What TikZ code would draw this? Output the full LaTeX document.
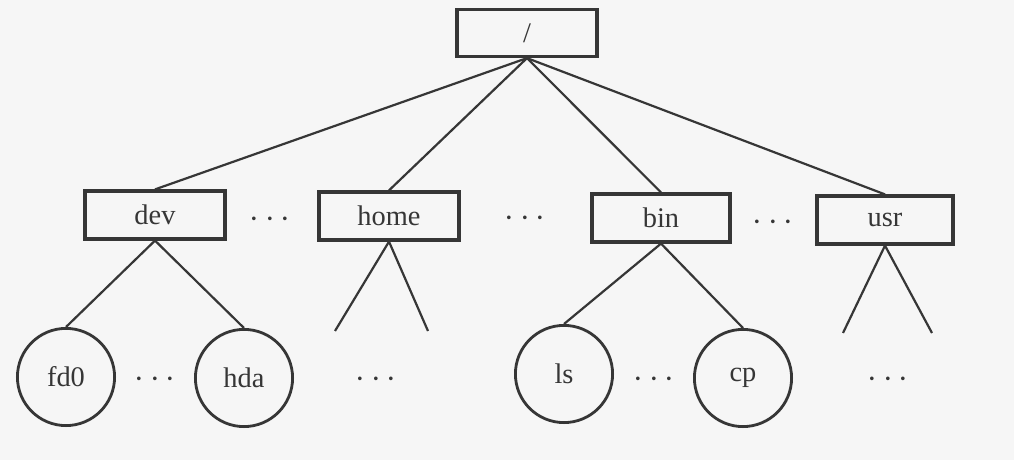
\documentclass[tikz,border=0pt]{standalone}
\usepackage{fontspec}
\setmainfont{Liberation Serif}
\definecolor{ink}{HTML}{363636}
\definecolor{paper}{HTML}{F6F6F6}
\begin{document}
\begin{tikzpicture}[x=0.5pt,y=-0.5pt]

                \tikzstyle{dir}  = [rectangle, draw=ink, text=ink, line width=1.6pt, minimum width=70pt, minimum height=24pt, inner sep=0pt, font=\fontsize{14.2}{17}\selectfont]
                \tikzstyle{file} = [circle, draw=ink, text=ink, line width=1.4pt, minimum size=48.6pt, inner sep=0pt, font=\fontsize{14.2}{17}\selectfont]
                \tikzstyle{more} = [text=ink, inner sep=0pt, font=\fontsize{16.5}{19}\selectfont]
                \tikzstyle{edge} = [draw=ink, line width=1.1pt]

                \fill [paper] (0,0) rectangle (1014,460);
                \useasboundingbox (0,0) rectangle (1014,460);

                % root and the first level
                \node [dir, minimum height=23.5pt](root) at (527,33) {/};
                \node [dir](dev)  at (155,215) {dev};
                \node [dir](home) at (389,216) {home};
                \node [dir, minimum width=69pt](bin)  at (661,218) {bin};
                \node [dir, minimum width=68pt](usr)  at (885,220) {usr};

                \node [more](m1) at (270,220) {$\cdots$};
                \node [more](m2) at (525,219) {$\cdots$};
                \node [more](m3) at (773,223) {$\cdots$};

                \foreach \d in {dev, home, bin, usr}
                {
                        \draw [edge] (root.south) -- (\d.north);
                }

                % files
                \node [file](fd0) at (66,377)  {fd0};
                \node [file](hda) at (244,378) {hda};
                \node [file](ls)  at (564,374) {ls};
                \node [file](cp)  at (743,378) {cp};

                \node [more](m4) at (155,380) {$\cdots$};
                \node [more](m5) at (376,380) {$\cdots$};
                \node [more](m6) at (654,380) {$\cdots$};
                \node [more](m7) at (888,380) {$\cdots$};

                \draw [edge] (dev.south) -- (fd0.north);
                \draw [edge] (dev.south) -- (hda.north);
                \draw [edge] (bin.south) -- (ls.north);
                \draw [edge] (bin.south) -- (cp.north);

                % open branches
                \coordinate (h1) at (335,331);
                \coordinate (h2) at (428,331);
                \coordinate (u1) at (843,333);
                \coordinate (u2) at (932,333);

                \draw [edge] (home.south) -- (h1);
                \draw [edge] (home.south) -- (h2);
                \draw [edge] (usr.south) -- (u1);
                \draw [edge] (usr.south) -- (u2);

\end{tikzpicture}
\end{document}
